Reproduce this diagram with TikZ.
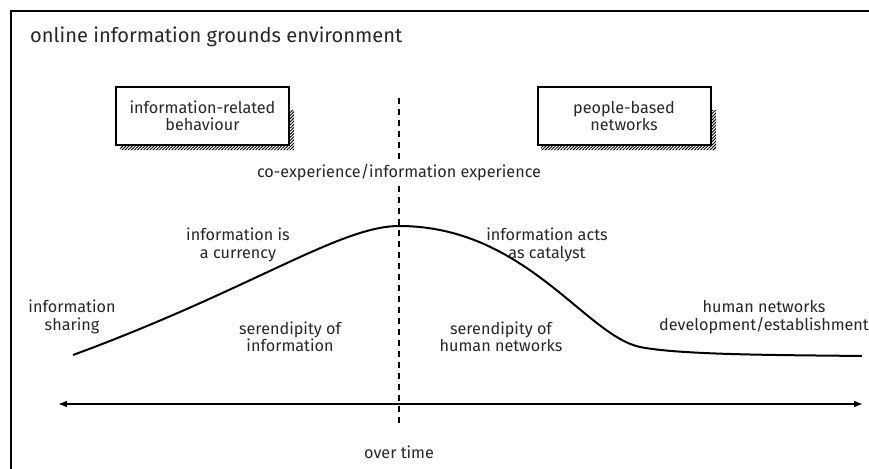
\documentclass[tikz,border=0pt]{standalone}
\usepackage{fontspec}
\setmainfont{Fira Sans}
\usetikzlibrary{patterns.meta,arrows.meta}
\begin{document}
\begin{tikzpicture}[x=1pt,y=-1pt,
  lbl/.style={align=center,font=\fontsize{16.2}{17.5}\selectfont,inner sep=0pt,text=black!85},
  boxn/.style={draw,line width=2pt,minimum width=173pt,minimum height=58pt,align=center,
    font=\fontsize{16.2}{17.5}\selectfont,text=black!85,fill=white,inner sep=0pt},
  hatch/.style={pattern={Lines[angle=45,distance=2.2pt,line width=0.9pt]}},
  frame/.style={line width=2.5pt},
  curve/.style={line width=2pt},
  vdash/.style={line width=2pt,dash pattern=on 6pt off 5pt},
  timeaxis/.style={line width=2pt,{Latex[length=9pt,width=7pt]}-{Latex[length=9pt,width=7pt]}}
]
\useasboundingbox (0,0) rectangle (869,468);
\draw[frame] (11,470) -- (11,11) -- (871,11);
\node[anchor=base west,font=\fontsize{20.1}{24}\selectfont,inner sep=0pt,text=black!85] (title) at (30,43) {online information grounds environment};

% shadows
\fill[hatch] (289,110) -- (294,110) -- (294,150) -- (120,150) -- (120,145) -- (289,145) -- cycle;
\fill[hatch] (711,110) -- (716,110) -- (716,150) -- (541,150) -- (541,145) -- (711,145) -- cycle;
\node[boxn] (irb) at (202.5,116) {information-related\\behaviour};
\node[boxn] (pbn) at (624,116) {people-based\\networks};

% dashed centre line
\coordinate (dtop) at (399,98);
\coordinate (dbot) at (399,425);
\draw[vdash] (dtop) -- (dbot);

\node[lbl,fill=white,inner sep=2pt] (coexp) at (399,173) {co-experience/information experience};

% curve
\coordinate (cstart) at (73,355);
\coordinate (cpeak) at (399,226);
\coordinate (cknee) at (640,347);
\coordinate (cend) at (862,356);
\draw[curve] (cstart) .. controls (250,290) and (340,226) .. (cpeak)
  .. controls (525,226) and (585,335) .. (cknee)
  .. controls (680,355) and (780,355) .. (cend);

% time axis
\coordinate (aleft) at (58,404);
\coordinate (aright) at (863,404);
\draw[timeaxis] (aleft) -- (aright);

\node[lbl] (share) at (72,317) {information\\sharing};
\node[lbl] (curr) at (238,245) {information is\\a currency};
\node[lbl] (serinf) at (290,337) {serendipity of\\information};
\node[lbl] (serhum) at (501,337) {serendipity of\\human networks};
\node[lbl] (catal) at (547,245) {information acts\\as catalyst};
\node[lbl] (hndev) at (764,317) {human networks\\development/establishment};
\node[lbl] (overt) at (399,452) {over time};
\end{tikzpicture}
\end{document}
